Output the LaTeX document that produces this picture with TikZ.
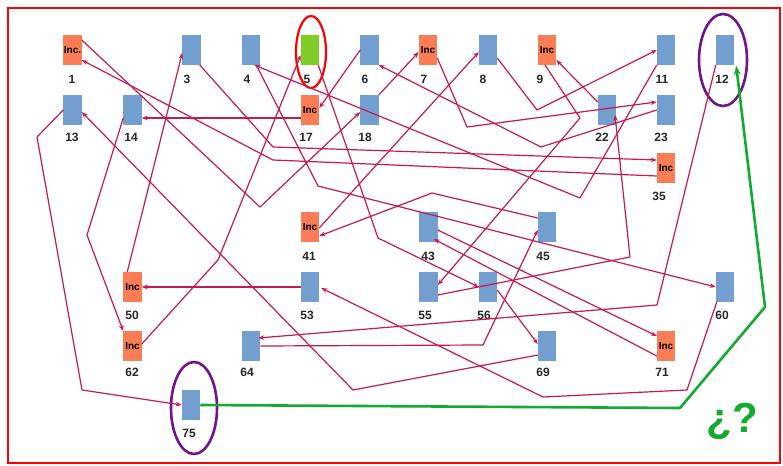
\documentclass[tikz,border=0pt]{standalone}
\usepackage{fontspec}
\setmainfont{Liberation Sans}
\usetikzlibrary{calc,arrows.meta}
\definecolor{boxblue}{RGB}{114,159,207}
\definecolor{boxorange}{RGB}{250,125,85}
\definecolor{boxgreen}{RGB}{128,204,40}
\definecolor{linecol}{RGB}{196,25,85}
\definecolor{framered}{RGB}{255,0,0}
\definecolor{ringpurple}{RGB}{112,20,140}
\definecolor{pathgreen}{RGB}{20,170,50}
\tikzset{
  abox/.style={minimum width=18.5pt, minimum height=30pt, inner sep=0pt, outer sep=0pt,
    font=\bfseries\fontsize{10}{12}\selectfont, text=black},
  bbox/.style={abox, fill=boxblue},
  obox/.style={abox, fill=boxorange},
  gbox/.style={abox, fill=boxgreen},
  lab/.style={font=\bfseries\fontsize{12}{14}\selectfont, inner sep=0pt, text=black!85},
  conn/.style={draw=linecol, line width=1.2pt, line join=round,
    -{Stealth[length=6pt,width=4.5pt]}},
  gline/.style={draw=pathgreen, line width=2.6pt, line join=round,
    -{Stealth[length=9pt,width=7pt]}}
}
\begin{document}
\begin{tikzpicture}[x=1pt,y=-1pt]
\useasboundingbox (0,0) rectangle (783,465);
\fill[white] (0,0) rectangle (783,465);
\draw[framered, line width=2pt] (8,8) rectangle (780,463);

% boxes
\node[obox] (n1) at (72.5,50) {Inc.};
\node[bbox] (n3) at (191.5,50) {};
\node[bbox] (n4) at (251,50) {};
\node[gbox] (n5) at (310,50) {};
\node[bbox] (n6) at (369.5,50) {};
\node[obox] (n7) at (428,50) {Inc};
\node[bbox] (n8) at (488,50) {};
\node[obox] (n9) at (547,50) {Inc};
\node[bbox] (n11) at (666,50) {};
\node[bbox] (n12) at (725,50) {};
\node[bbox] (n13) at (72.5,110) {};
\node[bbox] (n14) at (132.5,110) {};
\node[obox] (n17) at (310,110) {Inc};
\node[bbox] (n18) at (369.5,110) {};
\node[bbox] (n22) at (607,110) {};
\node[bbox] (n23) at (666,110) {};
\node[obox] (n35) at (666,168) {Inc};
\node[obox] (n41) at (310,227) {Inc};
\node[bbox] (n43) at (428.5,227) {};
\node[bbox] (n45) at (547,227) {};
\node[obox] (n50) at (132.5,287) {Inc};
\node[bbox] (n53) at (310,287) {};
\node[bbox] (n55) at (428.5,287) {};
\node[bbox] (n56) at (488,287) {};
\node[bbox] (n60) at (725,287) {};
\node[obox] (n62) at (132.5,346) {Inc};
\node[bbox] (n64) at (251,346) {};
\node[bbox] (n69) at (547,346) {};
\node[obox] (n71) at (666,346) {Inc};
\node[bbox] (n75) at (191,405) {};

% labels
\node[lab] (t1) at (72,79) {1};
\node[lab] (t3) at (187,79) {3};
\node[lab] (t4) at (247,79) {4};
\node[lab] (t5) at (307,79) {5};
\node[lab] (t6) at (365,79) {6};
\node[lab] (t7) at (424,79) {7};
\node[lab] (t8) at (483,79) {8};
\node[lab] (t9) at (540,79) {9};
\node[lab] (t11) at (662,79) {11};
\node[lab] (t12) at (722,79) {12};
\node[lab] (t13) at (72,137) {13};
\node[lab] (t14) at (131,137) {14};
\node[lab] (t17) at (306,137) {17};
\node[lab] (t18) at (365,137) {18};
\node[lab] (t22) at (602,137) {22};
\node[lab] (t23) at (661,137) {23};
\node[lab] (t35) at (659,196) {35};
\node[lab] (t41) at (309,256) {41};
\node[lab] (t43) at (428,256) {43};
\node[lab] (t45) at (543,256) {45};
\node[lab] (t50) at (132,315) {50};
\node[lab] (t53) at (307,315) {53};
\node[lab] (t55) at (425,315) {55};
\node[lab] (t56) at (484,315) {56};
\node[lab] (t60) at (722,315) {60};
\node[lab] (t62) at (132,372) {62};
\node[lab] (t64) at (247,372) {64};
\node[lab] (t69) at (543,372) {69};
\node[lab] (t71) at (662,372) {71};
\node[lab] (t75) at (189,433) {75};

% rings
\draw[framered, line width=2.2pt] (311,52) ellipse [x radius=15, y radius=36];
\draw[ringpurple, line width=2.6pt] (723,60) ellipse [x radius=24, y radius=46];
\draw[ringpurple, line width=2.6pt] (194,408) ellipse [x radius=23, y radius=46];

% connectors
\draw[conn] ($(n1.east)+(0,-10)$) -- (260,207) -- ($(n18.west)+(0,2)$);
\draw[conn] ($(n3.south east)+(-1,0)$) -- (273,147) -- ($(n35.west)+(0,-8)$);
\draw[conn] ($(n35.west)+(0,8)$) -- (273,160) -- ($(n1.east)+(0,10)$);
\draw[conn] ($(n50.north west)+(4,0)$) -- ($(n3.west)+(0,3)$);
\draw[conn] ($(n62.east)+(0,-2)$) -- (218,260) -- ($(n5.west)+(0,5)$);
\draw[conn] ($(n5.south east)+(-1,0)$) -- (378,238) -- (n56.west);
\draw[conn] (n6.west) -- ($(n17.east)+(0,-2)$);
\draw[conn] (n18.north east) -- ($(n7.west)+(0,2)$);
\draw[conn] ($(n7.east)+(0,8)$) -- (467,127) -- ($(n23.west)+(0,-8)$);
\draw[conn] ($(n8.east)+(0,8)$) -- (537,110) -- (n11.west);
\draw[conn] ($(n22.west)+(0,-8)$) -- ($(n9.south east)+(0,-5)$);
\draw[conn] ($(n9.south)+(-2,0)$) -- (580,118) -- ($(n55.east)+(0,-2)$);
\draw[conn] (n11.south west) -- (580,198) -- ($(n4.south east)+(-6,0)$);
\draw[conn] (n23.west) -- (541,147) -- (n6.south east);
\draw[conn] ($(n55.east)+(0,8)$) -- (630,257) -- ($(n22.center)+(8,5)$);
\draw[conn] ($(n41.east)+(0,1)$) -- ($(n8.west)+(0,2)$);
\draw[conn] ($(n45.west)+(0,-9)$) -- (432,193) -- ($(n41.east)+(0,9)$);
\draw[conn] ($(n43.east)+(0,3)$) -- ($(n71.west)+(0,-10)$);
\draw[conn] ($(n71.west)+(0,10)$) -- ($(n43.east)+(-4,12)$);
\draw[conn] ($(n56.east)+(0,3)$) -- ($(n69.west)+(0,-2)$);
\draw[conn] (n64.east) -- (483,345) -- ($(n45.west)+(0,3)$);
\draw[conn] (n12.south west) -- (657,305) -- ($(n64.east)+(-2,-8)$);
\draw[conn] ($(n60.south west)+(1,0)$) -- (687,390) -- (543,397) -- ($(n53.east)+(2,1)$);
\draw[conn] (n53.west) -- (n50.east);
\draw[conn] (n13.west) -- (37,137) -- (82,390) -- (n75.west);
\draw[conn] ($(n69.west)+(0,9)$) -- (353,390) -- ($(n13.east)+(0,2)$);
\draw[conn] ($(n14.west)+(0,8)$) -- (87,235) -- (n62.north west);
\draw[conn] ($(n17.west)+(0,8)$) -- ($(n14.east)+(0,8)$);
\draw[conn] ($(n4.south east)+(-4,0)$) -- (318,186) -- (n60.west);

% green path
\draw[gline] (n75.east) -- (680,408) -- (765,307) -- ($(n12.south east)+(2,1)$);
\node[font=\bfseries\fontsize{42}{42}\selectfont, text=pathgreen, anchor=base, inner sep=0pt] (q) at (732,432) {¿?};
\end{tikzpicture}
\end{document}
